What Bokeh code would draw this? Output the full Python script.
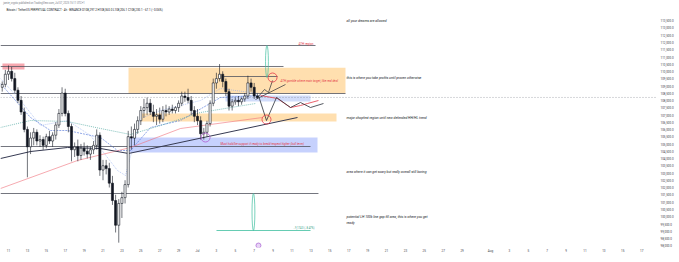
from bokeh.plotting import figure
from bokeh.models import Range1d, FixedTicker, NumeralTickFormatter, Label, ColumnDataSource
from bokeh.embed import file_html
from bokeh.resources import INLINE

# ---------------- data (BTCUSDT perp, 8h candles) -------------
# time axis: days since Jun 1 2025 (Jun 1 = 0); first candle Jun 10 08:00
t_start = 9 + 1 / 3
step = 1 / 3
opens = [108900,109100,109800,110000,109500,108700,108000,107200,106000,104800,105400,105800,
         105200,105300,104900,105500,105200,105600,106300,107100,108500,107100,106200,104600,
         104800,104200,104700,104500,104300,104600,104900,105600,103200,103500,103300,102300,
         101100,99400,100900,101300,102200,105500,105400,106000,106600,107300,107500,107800,
         107200,106900,107000,106700,107300,107200,107400,107300,107500,107800,108300,108200,
         108000,107300,106900,106600,105700,105800,106400,107800,109200,109500,109800,109300,
         108600,107600,107900,108000,107900,108100,108300,109200,108900,108300]
highs = [109300,110100,110400,110300,109900,108900,108300,107500,106200,105800,106100,106000,
         105600,105500,105700,105900,105800,106500,107400,108900,108800,107300,106400,105100,
         105300,105000,105100,104900,104800,105200,106000,105800,103900,103900,103700,102800,
         101500,101200,101700,102500,105900,106200,106400,106900,107600,108100,108200,108100,
         107700,107400,107500,107600,107700,107600,107700,107600,108000,108600,108600,108800,
         108300,107600,107400,106900,106100,106600,108000,109500,109900,110500,110000,109500,
         108800,108100,108200,108300,108200,108500,109700,109500,109200,108500]
lows = [108600,108900,109400,109300,108500,107800,107000,105800,102700,104300,104900,104900,
        104800,104600,104700,105000,104800,105300,106100,106900,106900,105800,103800,104100,
        103800,103900,104200,104000,103900,104300,104600,102800,102500,102900,102000,100800,
        98900,98200,99900,100900,102000,104600,104900,105700,106300,106800,107000,107000,
        106500,106300,106400,106500,106900,107000,107100,107100,107200,107600,107900,107800,
        107000,106500,106300,105300,105300,105500,106200,107600,108800,109300,108900,108300,
        107300,107300,107700,107600,107700,107900,108100,108600,108100,108100]
closes = [109100,109800,110000,109500,108700,108000,107200,106000,104800,105400,105800,105200,
          105300,104900,105500,105200,105600,106300,107100,108500,107100,106200,104600,104800,
          104200,104700,104500,104300,104600,104900,105600,103200,103500,103300,102300,101100,
          99400,100900,101300,102200,105500,105400,106000,106600,107300,107500,107800,107200,
          106900,107000,106700,107300,107200,107400,107300,107500,107800,108300,108200,108000,
          107300,106900,106600,105700,105800,106400,107800,109200,109500,109800,109300,108600,
          107600,107900,108000,107900,108100,108300,109200,108900,108300,108200]
last_price = 108200

# moving-average style lines (day, price)
ma_dark_x = [9.15, 12.33, 16.24, 19.74, 22.70, 40.58]
ma_dark_y = [103995, 104477, 104753, 104684, 104340, 106819]
ma_red_x = [9.15, 17.30, 22.91, 28.20, 36.88]
ma_red_y = [101929, 103858, 104753, 106062, 106819]
ma_teal_x = [9.15, 12.33, 16.24, 19.74, 22.91, 26.08, 30.32, 36.14]
ma_teal_y = [106130, 106613, 106544, 106062, 105649, 106268, 107163, 107783]
ma_blue_x = [9.15, 12.33, 14.44, 16.24, 19.74, 21.53, 22.91, 25.03, 28.20, 32.43, 36.45]
ma_blue_y = [109161, 106819, 105924, 105924, 105442, 104547, 104547, 106131, 106613, 108197, 108334]
ma_lblue_x = [9.15, 11.27, 13.39, 16.24, 18.68, 21.53, 22.38, 23.97, 26.08, 30.32, 32.43, 36.45]
ma_lblue_y = [109505, 107990, 106268, 106613, 105580, 103169, 102825, 106751, 107302, 107990, 108816, 108472]

# projected paths drawn on the chart
proj_black_x = [36.45, 37.30, 38.36, 39.84, 40.90, 41.96, 43.33]
proj_black_y = [108334, 106613, 108197, 107508, 107852, 107508, 107783]
proj_red_x = [36.67, 38.46, 39.84, 40.90, 41.64, 42.80]
proj_red_y = [108334, 108128, 107508, 107646, 107783, 107990]
proj_up_x = [36.45, 37.09, 37.51, 37.94]
proj_up_y = [108266, 108748, 108541, 109368]
trend_up_x = [36.14, 39.31]
trend_up_y = [108059, 109092]

# horizontal levels: (price, from_day, to_day)
levels = [(111778, 9.15, 42.49), (110332, 9.15, 39.10), (108472, 9.15, 45.66),
          (109643, 32.75, 38.47), (104822, 9.15, 41.96), (101585, 9.15, 42.80)]
# zones: (day_left, day_right, price_bottom, price_top)
orange_zones = [(22.70, 45.66, 108480, 110250), (23.97, 44.71, 106544, 107095)]
blue_zones = [(22.70, 42.70, 104409, 105442)]
blue_band = [(32.96, 41.96, 107921, 108334)]
red_zone = [(9.36, 11.69, 110125, 110538)]

price_ticks = list(range(98000, 114000, 500))
date_ticks = [10, 12, 14, 16, 18, 20, 22, 24, 26, 28, 30, 32, 34, 36, 38, 40, 42, 44, 46, 48,
              50, 52, 54, 56, 58, 61, 63, 65, 67, 69, 71, 73, 75, 77, 79]
date_labels = ["11", "13", "15", "17", "19", "21", "23", "25", "27", "29", "Jul", "3", "5", "7",
               "9", "11", "13", "15", "17", "19", "21", "23", "25", "27", "29", "Aug", "3", "5",
               "7", "9", "11", "13", "15", "17", "19"]

# ---------------- figure ----------------
PX_PER_DAY = 9.45
X0 = 9.153
FRAME_W = 656
X1 = X0 + FRAME_W / PX_PER_DAY
Y0, Y1 = 97867, 114877

p = figure(width=679, height=262, x_range=Range1d(X0, X1), y_range=Range1d(Y0, Y1),
           y_axis_location="right", output_backend="svg", toolbar_location=None,
           min_border_left=0, min_border_top=0, min_border_right=23, min_border_bottom=15,
           background_fill_color="white", border_fill_color="white")
p.grid.visible = False
p.outline_line_color = None

ya = p.yaxis[0]
ya.ticker = FixedTicker(ticks=price_ticks)
ya.formatter = NumeralTickFormatter(format="0,0.0")
ya.major_label_text_font_size = "3px"
ya.major_label_text_color = "#3b3e48"
ya.major_label_text_font = "Roboto"
ya.axis_line_color = None
ya.major_tick_line_color = None
ya.minor_tick_line_color = None
ya.major_tick_out = 0
ya.major_tick_in = 0
ya.minor_tick_out = 0
ya.major_label_standoff = 4

xa = p.xaxis[0]
xa.ticker = FixedTicker(ticks=date_ticks)
xa.major_label_overrides = {d: l for d, l in zip(date_ticks, date_labels)}
xa.major_label_text_font_size = "3px"
xa.major_label_text_color = "#3b3e48"
xa.major_label_text_font = "Roboto"
xa.axis_line_color = None
xa.major_tick_line_color = None
xa.minor_tick_line_color = None
xa.major_tick_out = 0
xa.major_tick_in = 0
xa.minor_tick_out = 0
xa.major_label_standoff = 1

# zones
for (l, r, b, t) in orange_zones:
    p.quad(left=l, right=r, bottom=b, top=t, fill_color="#ffb74d", fill_alpha=0.45, line_color=None)
for (l, r, b, t) in blue_zones:
    p.quad(left=l, right=r, bottom=b, top=t, fill_color="#5c7cfa", fill_alpha=0.35, line_color=None)
for (l, r, b, t) in blue_band:
    p.quad(left=l, right=r, bottom=b, top=t, fill_color="#7b9cf0", fill_alpha=0.35, line_color=None)
for (l, r, b, t) in red_zone:
    p.quad(left=l, right=r, bottom=b, top=t, fill_color="#f06070", fill_alpha=0.55, line_color=None)

# horizontal levels
for (pr, a, b) in levels:
    p.line([a, b], [pr, pr], line_color="#50535e", line_width=0.8)
p.line([X0, X1], [last_price, last_price], line_color="#787b86", line_width=0.6, line_dash="1 2")
p.line([32.01, 41.96], [99037, 99037], line_color="#3fbf9f", line_width=0.8)

# moving averages
p.line(ma_lblue_x, ma_lblue_y, line_color="#8fa9ee", line_width=0.6, line_dash="1 1")
p.line(ma_blue_x, ma_blue_y, line_color="#4a6fd6", line_width=0.6, line_dash="2 1")
p.line(ma_teal_x, ma_teal_y, line_color="#4fa8a0", line_width=0.7, line_dash="1 1")
p.line(ma_red_x, ma_red_y, line_color="#f0707a", line_width=0.6)
p.line(ma_dark_x, ma_dark_y, line_color="#363a52", line_width=1.0)

# candles
times = [t_start + i * step for i in range(len(closes))]
up = [c >= o for o, c in zip(opens, closes)]
src_up = ColumnDataSource(dict(
    t=[t for t, u in zip(times, up) if u],
    top=[c for c, u in zip(closes, up) if u],
    bot=[o for o, u in zip(opens, up) if u]))
src_dn = ColumnDataSource(dict(
    t=[t for t, u in zip(times, up) if not u],
    top=[o for o, u in zip(opens, up) if not u],
    bot=[c for c, u in zip(closes, up) if not u]))
p.segment(x0=times, y0=lows, x1=times, y1=highs, line_color="#131722", line_width=0.6)
p.vbar(x="t", top="top", bottom="bot", width=0.22, source=src_up,
       fill_color="white", line_color="#131722", line_width=0.6)
p.vbar(x="t", top="top", bottom="bot", width=0.22, source=src_dn,
       fill_color="#131722", line_color="#131722", line_width=0.6)

# projection drawings
p.line(proj_red_x, proj_red_y, line_color="#e53946", line_width=0.8)
p.line(proj_black_x, proj_black_y, line_color="#2a2e39", line_width=0.8)
p.line(proj_up_x, proj_up_y, line_color="#2a2e39", line_width=0.7)
p.line(trend_up_x, trend_up_y, line_color="#2a2e39", line_width=0.7)

# circles / markers
p.scatter([37.94, 37.30], [109574, 106681], marker="circle", size=9, fill_color=None,
          line_color="#e53946", line_width=0.8)
p.scatter([30.85], [105442], marker="circle", size=9, fill_color=None,
          line_color="#b05ad0", line_width=0.8)
p.scatter([36.45], [98004], marker="circle", size=5, fill_color="#e8d4f5",
          line_color="#9c4ccf", line_width=0.6)
p.ellipse(x=[37.35, 35.92], y=[110676, 100311], width=[0.3, 0.3], height=[2204, 2548],
          fill_color=None, line_color="#3fbf9f", line_width=0.7)

# ---------------- texts ----------------
def lab(x, y, text, size="3.4px", color="#131722", style="italic", align="left", **kw):
    p.add_layout(Label(x=x, y=y, text=text, text_font="Roboto", text_font_size=size,
                       text_color=color, text_font_style=style, text_align=align,
                       text_baseline="middle", **kw))

lab(9.45, 114670, "jamie_crypto published on TradingView.com, Jul 07, 2025 15:11 UTC+1",
    size="2.6px", color="#787b86", style="normal")
lab(9.78, 114257, "Bitcoin / TetherUS PERPETUAL CONTRACT · 4h · BINANCE   O108,297.2  H108,360.0  "
    "L108,206.1  C108,230.1  −67.1 (−0.06%)", size="2.9px", style="normal")
lab(45.77, 113431, "all your dreams are allowed")
lab(45.77, 109574, "this is where you take profits until proven otherwise")
lab(45.77, 106819, "major chopfest region until new defended HH/HL trend")
lab(45.77, 103100, "area where it can get scary but really overall still boring")
lab(45.77, 99999, "potential LH 100k line gap fill area, this is where you get")
lab(45.77, 99586, "ready")
lab(40.69, 111916, "ATH region", size="3px", color="#e53946", style="normal")
lab(38.78, 109367, "ATH gamble where main target, like real deal", size="3px", color="#e53946")
lab(32.43, 105029, "Must hold/be support if ready to break/respect higher (bull term)",
    size="3px", color="#e53946")
lab(40.16, 99175, "−9,174.0 (−8.47%)", size="2.6px", color="#2f9e84", style="normal")

# price scale extras
lab(X1 + 0.75, 114188, "USDT", size="3px", color="#787b86", style="normal")
lab(X1 + 0.42, last_price + 120, "108,230.1", size="3px", color="white", style="bold",
    background_fill_color="#131722")
lab(X1 + 0.42, last_price - 150, "00:48:51 ", size="3px", color="white", style="normal",
    background_fill_color="#131722")
lab(9.45, 97177, "TV TradingView", size="3px", color="#131722", style="bold")

open("out.html", "w").write(file_html(p, INLINE))
